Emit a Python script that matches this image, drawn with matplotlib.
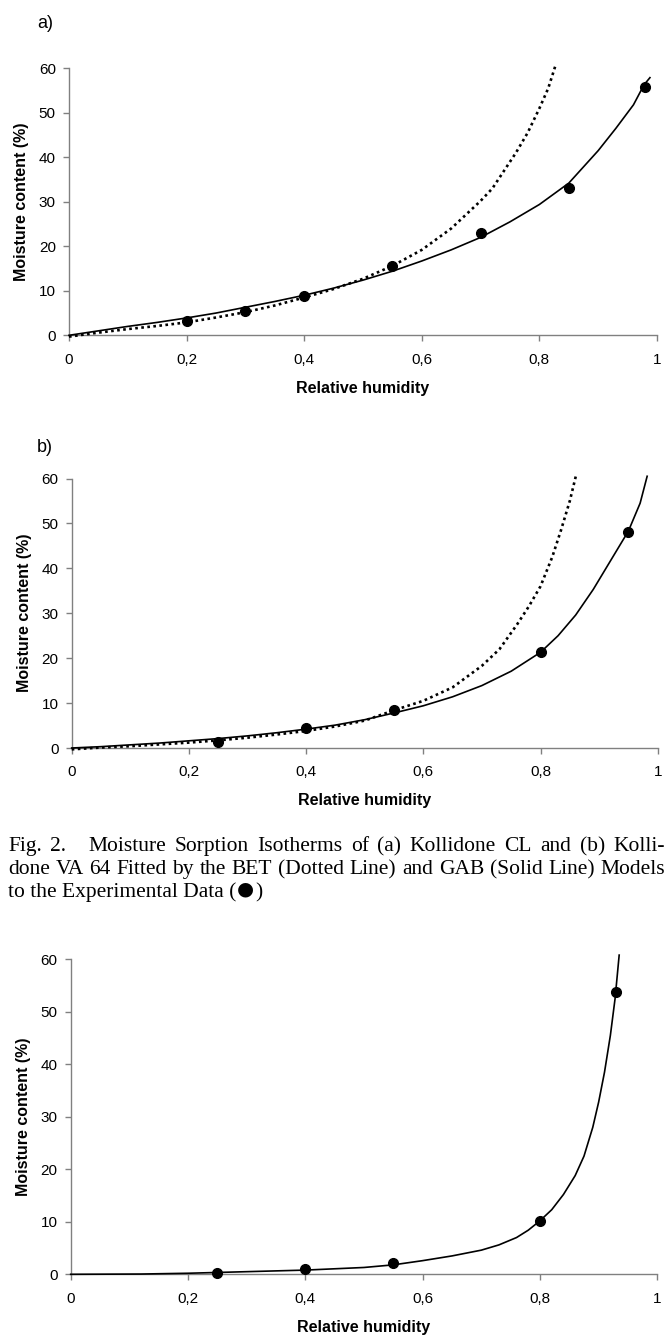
import matplotlib
matplotlib.use("Agg")
import matplotlib.pyplot as plt

# ---------------- data ----------------
# Panel a) Kollidone CL
a_exp_x = [0.2, 0.3, 0.4, 0.55, 0.7, 0.85, 0.98]
a_exp_y = [3.2, 5.5, 8.9, 15.6, 22.9, 33.1, 55.8]
a_gab_x = [0, 0.05, 0.1, 0.15, 0.2, 0.25, 0.3, 0.35, 0.4, 0.45, 0.5, 0.55, 0.6, 0.65,
           0.7, 0.75, 0.8, 0.85, 0.9, 0.93, 0.96, 0.978, 0.988]
a_gab_y = [0, 1.0, 2.0, 2.9, 3.9, 5.0, 6.3, 7.6, 9.0, 10.6, 12.4, 14.4, 16.7, 19.2,
           22.0, 25.5, 29.4, 34.2, 41.5, 46.5, 51.8, 56.3, 57.9]
a_bet_x = [0, 0.05, 0.1, 0.15, 0.2, 0.25, 0.3, 0.35, 0.4, 0.45, 0.5, 0.55, 0.6, 0.65,
           0.7, 0.72, 0.74, 0.76, 0.78, 0.8, 0.815, 0.828]
a_bet_y = [-0.3, 0.6, 1.4, 2.1, 2.9, 4.0, 5.2, 6.7, 8.5, 10.4, 12.7, 15.6, 19.2, 24.0,
           30.2, 33.0, 37.0, 41.0, 45.5, 51.0, 55.5, 60.9]

# Panel b) Kollidone VA 64
b_exp_x = [0.25, 0.4, 0.55, 0.8, 0.95]
b_exp_y = [1.3, 4.5, 8.4, 21.3, 48.2]
b_gab_x = [0, 0.05, 0.1, 0.15, 0.2, 0.25, 0.3, 0.35, 0.4, 0.45, 0.5, 0.55, 0.6, 0.65,
           0.7, 0.75, 0.8, 0.83, 0.86, 0.89, 0.92, 0.95, 0.97, 0.982]
b_gab_y = [0, 0.3, 0.7, 1.1, 1.6, 2.1, 2.7, 3.4, 4.2, 5.1, 6.3, 7.8, 9.4, 11.4,
           13.9, 17.1, 21.3, 25.0, 29.6, 35.3, 41.8, 48.3, 54.5, 60.5]
b_bet_x = [0, 0.05, 0.1, 0.15, 0.2, 0.25, 0.3, 0.35, 0.4, 0.45, 0.5, 0.55, 0.6, 0.65,
           0.7, 0.73, 0.76, 0.78, 0.8, 0.82, 0.835, 0.85, 0.861]
b_bet_y = [-0.3, 0.1, 0.4, 0.8, 1.2, 1.7, 2.3, 3.0, 3.8, 4.8, 6.1, 8.4, 10.5, 13.5,
           18.3, 22.0, 27.5, 31.5, 36.0, 42.5, 48.5, 55.0, 60.9]

# Panel c)
c_exp_x = [0.25, 0.4, 0.55, 0.8, 0.93]
c_exp_y = [0.2, 1.0, 2.2, 10.1, 53.8]
c_gab_x = [0, 0.12, 0.2, 0.3, 0.4, 0.5, 0.55, 0.6, 0.65, 0.7, 0.73, 0.76, 0.78, 0.8,
           0.82, 0.84, 0.86, 0.875, 0.89, 0.9, 0.91, 0.92, 0.928, 0.935]
c_gab_y = [0, 0.05, 0.2, 0.5, 0.8, 1.3, 1.8, 2.6, 3.5, 4.6, 5.6, 7.0, 8.4, 10.2,
           12.3, 15.2, 18.8, 22.5, 28.0, 32.8, 38.5, 45.5, 52.5, 60.8]

x_ticks = [0, 0.2, 0.4, 0.6, 0.8, 1.0]
x_tick_labels = ["0", "0,2", "0,4", "0,6", "0,8", "1"]
y_ticks = [0, 10, 20, 30, 40, 50, 60]
y_tick_labels = ["0", "10", "20", "30", "40", "50", "60"]

caption_lines = [
    "Fig.  2.   Moisture Sorption Isotherms of (a) Kollidone CL and (b) Kolli-",
    "done VA 64 Fitted by the BET (Dotted Line) and GAB (Solid Line) Models",
    "to the Experimental Data (",
]
caption_marker = "\u25CF"

# ---------------- figure ----------------
W, H = 667, 1335
fig = plt.figure(figsize=(W / 100, H / 100), dpi=100)
fig.patch.set_facecolor("white")

SANS = ["Liberation Sans", "DejaVu Sans"]
axis_col = "#808080"


def px_rect(left, right, top, bottom):
    return [left / W, 1 - bottom / H, (right - left) / W, (bottom - top) / H]


def style_axes(ax):
    ax.set_xlim(0, 1)
    ax.set_ylim(0, 60)
    for s in ("top", "right"):
        ax.spines[s].set_visible(False)
    for s in ("left", "bottom"):
        ax.spines[s].set_color(axis_col)
        ax.spines[s].set_linewidth(1.0)
    ax.set_xticks(x_ticks)
    ax.set_xticklabels(x_tick_labels, family=SANS, fontsize=11)
    ax.set_yticks(y_ticks)
    ax.set_yticklabels(y_tick_labels, family=SANS, fontsize=11)
    ax.tick_params(axis="both", direction="out", color=axis_col, width=1.0, length=4)
    ax.tick_params(axis="x", pad=8.5)
    ax.tick_params(axis="y", pad=5.5)
    ax.set_xlabel("Relative humidity", family=SANS, fontsize=11.5, fontweight="bold", labelpad=10)
    ax.set_ylabel("Moisture content (%)", family=SANS, fontsize=11.5, fontweight="bold", labelpad=7)
    ax.set_facecolor("white")


def draw(ax, gx, gy, ex, ey, bx=None, by=None):
    if bx is not None:
        ax.plot(bx, by, color="black", lw=1.9, linestyle=(0, (1.0, 1.3)), clip_on=False, zorder=3)
    ax.plot(gx, gy, color="black", lw=1.2, clip_on=False, zorder=3)
    ax.plot(ex, ey, "o", color="black", ms=7, clip_on=False, zorder=4)


ax_a = fig.add_axes(px_rect(69, 657, 68.3, 335.3))
style_axes(ax_a)
draw(ax_a, a_gab_x, a_gab_y, a_exp_x, a_exp_y, a_bet_x, a_bet_y)

ax_b = fig.add_axes(px_rect(71.7, 657.7, 478.5, 748))
style_axes(ax_b)
draw(ax_b, b_gab_x, b_gab_y, b_exp_x, b_exp_y, b_bet_x, b_bet_y)

ax_c = fig.add_axes(px_rect(70.7, 657.3, 959.3, 1274.3))
style_axes(ax_c)
draw(ax_c, c_gab_x, c_gab_y, c_exp_x, c_exp_y)

# panel labels
fig.text(37 / W, 1 - 23 / H, "a)", family=SANS, fontsize=13, ha="left", va="center")
fig.text(37 / W, 1 - 447 / H, "b)", family=SANS, fontsize=13, ha="left", va="center")

# justified caption
renderer = fig.canvas.get_renderer()
cap_font = dict(family="Liberation Serif", fontsize=15.5)
x_left, x_right = 8, 665
line_base = [851, 874, 897]
for i, line in enumerate(caption_lines):
    y = 1 - line_base[i] / H
    if i == len(caption_lines) - 1:
        t = fig.text(x_left / W, y, line, ha="left", va="baseline", **cap_font)
        wd = t.get_window_extent(renderer).width
        t2 = fig.text((x_left + wd + 1) / W, y + 2.5 / H, caption_marker, ha="left",
                      va="baseline", family="DejaVu Sans", fontsize=14)
        wd2 = t2.get_window_extent(renderer).width
        fig.text((x_left + wd + wd2 + 2) / W, y, ")", ha="left", va="baseline", **cap_font)
        continue
    words = line.split()
    tmp = [fig.text(0, 0, w, **cap_font) for w in words]
    widths = [t.get_window_extent(renderer).width for t in tmp]
    for t in tmp:
        t.remove()
    extra = [0.0] * len(words)
    if i == 0:
        extra[1] = 14  # wider gap after "Fig. 2."
    gap = (x_right - x_left - sum(widths) - sum(extra)) / (len(words) - 1)
    x = x_left
    for w, wd, ex in zip(words, widths, extra):
        fig.text(x / W, y, w, ha="left", va="baseline", **cap_font)
        x += wd + gap + ex

fig.savefig("out.png", dpi=100, facecolor="white")
